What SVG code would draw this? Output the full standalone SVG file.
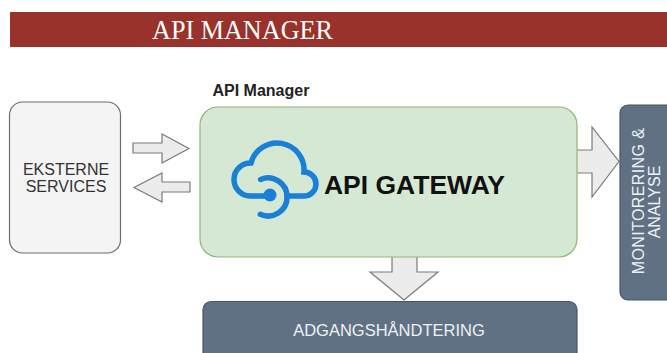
<svg xmlns="http://www.w3.org/2000/svg" width="667" height="353" viewBox="0 0 667 353">
<style>
.sans{font-family:"Liberation Sans",Arial,sans-serif}
.blk{fill:#ececec;stroke:#7a7a7a;stroke-width:1.2}
.dark{fill:#617184;stroke:#46556a;stroke-width:1.2}
.lt{fill:#eef1f4}
.icon{fill:none;stroke:#1a7fd6;stroke-width:5.5;stroke-linecap:round}
</style>
<rect x="0" y="0" width="667" height="353" fill="#ffffff"/>
<g id="header">
<rect x="10" y="12" width="657" height="35" fill="#98322a"/>
<text x="152" y="38.5" font-family="'Liberation Serif','Times New Roman',serif" font-size="27" fill="#ffffff" textLength="181" lengthAdjust="spacingAndGlyphs">API MANAGER</text>
</g>
<g id="connectors">
<polygon class="blk" points="133,143 162,143 162,134 189,148.5 162,163 162,153 133,153"/>
<polygon class="blk" points="190,182 162,182 162,173 134,187.5 162,202 162,192 190,192"/>
<polygon class="blk" points="574,150 592,150 592,127 619,161.5 592,197 592,173 574,173"/>
<polygon class="blk" points="392,254 417,254 417,272 438,272 404,300 370,272 392,272"/>
</g>
<g id="eksterne">
<rect x="9.5" y="102" width="111" height="151" rx="13" fill="#f4f4f4" stroke="#6f6f6f" stroke-width="1.2"/>
<text class="sans" x="66" y="175" font-size="16" fill="#333" text-anchor="middle">EKSTERNE</text>
<text class="sans" x="66" y="192" font-size="16" fill="#333" text-anchor="middle">SERVICES</text>
</g>
<g id="apimanager">
<text class="sans" x="212.5" y="95.5" font-size="16" font-weight="bold" fill="#222">API Manager</text>
<rect x="200" y="107" width="377" height="150" rx="18" fill="#d5e8d4" stroke="#8db873" stroke-width="1.2"/>
<g id="cloud-icon">
<path class="icon" d="M 266 196 L 250 196 A 16 16 0 0 1 251 163 A 27 27 0 0 1 304 172 A 12 12 0 0 1 304 196 L 287 196"/>
<path class="icon" d="M 260.6 179.5 A 19 19 0 1 1 260.3 214.3"/>
<circle cx="270" cy="195" r="6.5" fill="#1a7fd6"/>
</g>
<text class="sans" x="324" y="194" font-size="26" font-weight="bold" fill="#111" textLength="181" lengthAdjust="spacingAndGlyphs">API GATEWAY</text>
</g>
<g id="monitorering">
<rect class="dark" x="620" y="105" width="60" height="195" rx="8"/>
<text class="sans lt" font-size="16" text-anchor="middle" letter-spacing="0.4" transform="translate(643.5,201) rotate(-90)">MONITORERING &amp;</text>
<text class="sans lt" font-size="16" text-anchor="middle" transform="translate(659.5,202) rotate(-90)">ANALYSE</text>
</g>
<g id="adgang">
<rect class="dark" x="203" y="301.5" width="374" height="60" rx="8"/>
<text class="sans lt" x="389" y="336" font-size="16.5" text-anchor="middle">ADGANGSHÅNDTERING</text>
</g>
</svg>
